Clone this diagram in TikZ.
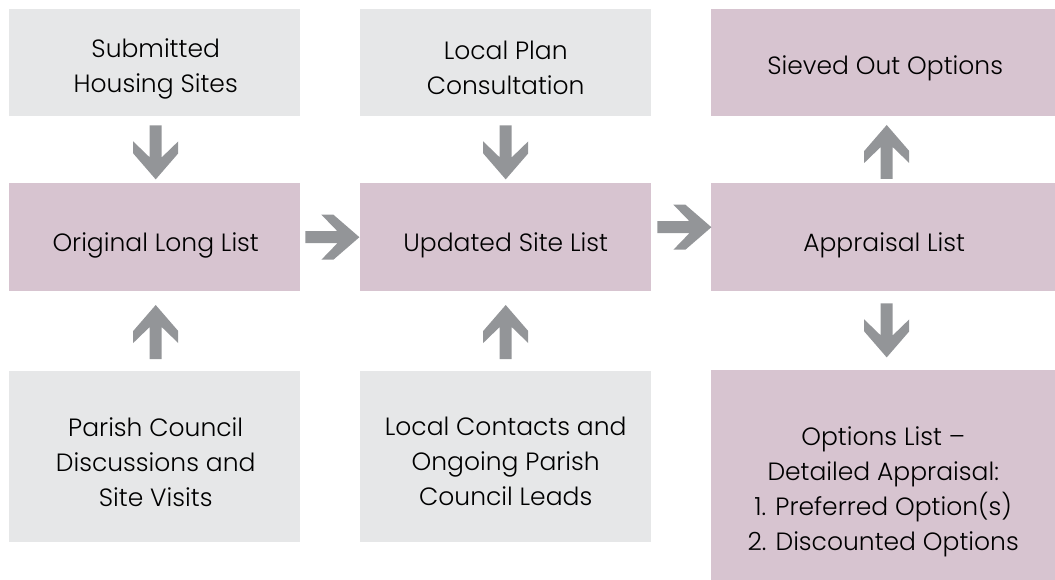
\documentclass[tikz,border=0pt]{standalone}
\usepackage{fontspec}
\IfFontExistsTF{Poppins Light}{\setmainfont{Poppins Light}}{\setmainfont{Poppins}}
\usetikzlibrary{calc}
\definecolor{boxgrey}{HTML}{E6E7E8}
\definecolor{boxplum}{HTML}{D7C4D0}
\definecolor{arrowgrey}{HTML}{939598}
\begin{document}
\begin{tikzpicture}[x=1pt,y=-1pt,
  box/.style={anchor=north west,inner sep=0pt,draw=none},
  source/.style={box,fill=boxgrey},
  stage/.style={box,fill=boxplum},
  caption/.style={inner sep=0pt,align=center,text=black,
    font=\fontsize{25}{35}\selectfont},
  flowarrow/.pic={\fill[arrowgrey] (0,6) -- (32,6) -- (16,22.5) -- (28,22.5) -- (54,0)
     -- (28,-22.5) -- (16,-22.5) -- (32,-6) -- (0,-6) -- cycle;}]
\useasboundingbox (0,0) rectangle (1055,580);
% first column
\node[source,minimum width=291pt,minimum height=107pt] (sub) at (9,9) {};
\node[stage,minimum width=291pt,minimum height=108pt] (orig) at (9,183) {};
\node[source,minimum width=291pt,minimum height=171pt] (par) at (9,371) {};
% second column
\node[source,minimum width=291pt,minimum height=107pt] (lpc) at (360,9) {};
\node[stage,minimum width=291pt,minimum height=108pt] (upd) at (360,183) {};
\node[source,minimum width=291pt,minimum height=171pt] (loc) at (360,371) {};
% third column
\node[stage,minimum width=344pt,minimum height=107pt] (sieve) at (711,9) {};
\node[stage,minimum width=344pt,minimum height=108pt] (appr) at (711,183) {};
\node[stage,minimum width=344pt,minimum height=210pt] (opt) at (711,370) {};
% box captions
\node[caption] (subT) at ($(sub.center)+(1,6)$) {Submitted\\Housing Sites};
\node[caption] (origT) at ($(orig.center)+(1,8)$) {Original Long List};
\node[caption] (parT) at ($(par.center)+(1,5)$) {Parish Council\\Discussions and\\Site Visits};
\node[caption] (lpcT) at ($(lpc.center)+(0,5)$) {Local Plan\\Consultation};
\node[caption] (updT) at ($(upd.center)+(0,8)$) {Updated Site List};
\node[caption] (locT) at ($(loc.center)+(0,5)$) {Local Contacts and\\Ongoing Parish\\Council Leads};
\node[caption] (sieveT) at ($(sieve.center)+(2,6)$) {Sieved Out Options};
\node[caption] (apprT) at ($(appr.center)+(1,8)$) {Appraisal List};
\node[caption] (optT) at ($(opt.center)+(0,17)$) {Options List --\\Detailed Appraisal:\\1. Preferred Option(s)\\2. Discounted Options};
% block arrows between the boxes
\pic[rotate=-90] at ($(sub.south)+(1,9)$) {flowarrow};
\pic[rotate=90] at ($(par.north)+(1,-12)$) {flowarrow};
\pic[rotate=-90] at ($(lpc.south)+(0,9)$) {flowarrow};
\pic[rotate=90] at ($(loc.north)+(0,-12)$) {flowarrow};
\pic at ($(orig.east)+(5,0)$) {flowarrow};
\pic at ($(upd.east)+(6,-10)$) {flowarrow};
\pic[rotate=90] at ($(appr.north)+(3.5,-4)$) {flowarrow};
\pic[rotate=-90] at ($(appr.south)+(3.5,12)$) {flowarrow};
\end{tikzpicture}
\end{document}
